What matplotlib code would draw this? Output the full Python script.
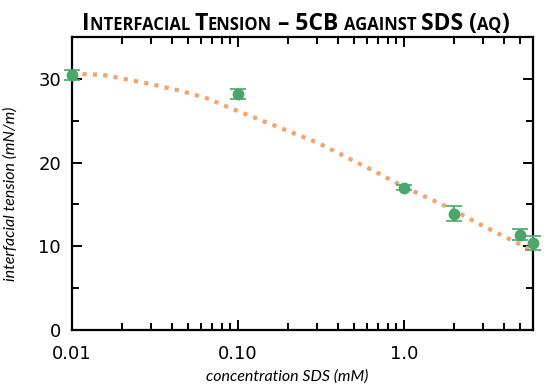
import matplotlib
matplotlib.use("Agg")
import matplotlib.pyplot as plt
import matplotlib.ticker as tck
from matplotlib.offsetbox import TextArea, HPacker, AnchoredOffsetbox

# measured points
conc = [0.01, 0.1, 1.0, 2.0, 5.0, 6.0]
tension = [30.5, 28.2, 17.0, 13.9, 11.4, 10.4]
tension_err = [0.6, 0.65, 0.3, 0.9, 0.7, 0.8]

# fitted curve
fit_conc = [0.01, 0.0151, 0.0194, 0.0294, 0.0445, 0.0673, 0.0805, 0.308,
            0.705, 1.0, 1.83, 2.89, 5.53, 6.0]
fit_tension = [30.6, 30.5, 30.1, 29.4, 28.6, 27.6, 26.9, 22.3,
               18.7, 17.1, 14.7, 12.6, 9.8, 9.4]

x_ticks = [0.01, 0.1, 1.0]
x_ticklabels = ["0.01", "0.10", "1.0"]
y_ticks = [0, 10, 20, 30]

orange = "#f4a46e"
green = "#4aa66c"

fig = plt.figure(figsize=(5.5, 3.9), dpi=100)
ax = fig.add_axes([0.131, 0.154, 0.838, 0.751])

ax.plot(fit_conc, fit_tension, color=orange, lw=3.0, dashes=(1, 1.5),
        dash_capstyle="butt", zorder=2)
ax.errorbar(conc, tension, yerr=tension_err, fmt="o", color=green,
            ms=7.5, capsize=6, elinewidth=1.2, capthick=1.2,
            clip_on=False, zorder=3)

ax.set_xscale("log")
ax.set_xlim(0.01, 6.0)
ax.set_ylim(0, 35)
ax.set_xticks(x_ticks)
ax.set_xticklabels(x_ticklabels)
ax.xaxis.set_minor_locator(tck.LogLocator(base=10, subs=range(2, 10)))
ax.xaxis.set_minor_formatter(tck.NullFormatter())
ax.set_yticks(y_ticks)
ax.yaxis.set_minor_locator(tck.MultipleLocator(5))

ax.tick_params(which="both", direction="in", top=True, right=True,
               width=1.4, labelsize=13)
ax.tick_params(axis="x", pad=11)
ax.tick_params(axis="y", pad=8)
ax.tick_params(which="major", length=7)
ax.tick_params(which="minor", length=5)
for s in ax.spines.values():
    s.set_linewidth(1.6)

lab_font = dict(family="Lato", style="italic", size=11.5)
ax.set_xlabel("concentration SDS (mM)", **lab_font)
ax.set_ylabel("interfacial tension (mN/m)", **lab_font)
ax.xaxis.set_label_coords(0.466, -0.135)
ax.yaxis.set_label_coords(-0.118, 0.464)

# small-caps style title
pieces = [("I", 16.5), ("NTERFACIAL ", 12), ("T", 16.5), ("ENSION", 12),
          (" \u2013 5CB ", 16.5), ("AGAINST ", 12), ("SDS (", 16.5), ("AQ", 12), (")", 16.5)]
boxes = [TextArea(t, textprops=dict(family="Open Sans", weight="bold", size=s))
         for t, s in pieces]
title = HPacker(children=boxes, align="baseline", pad=0, sep=0)
ab = AnchoredOffsetbox(loc="lower center", child=title, frameon=False,
                       bbox_to_anchor=(0.485, 1.005), bbox_transform=ax.transAxes,
                       borderpad=0, pad=0)
ax.add_artist(ab)

fig.savefig("out.png", dpi=100)
